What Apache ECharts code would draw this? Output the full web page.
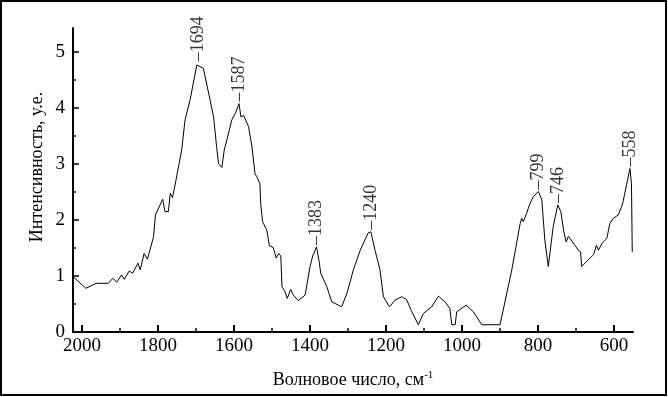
<!DOCTYPE html>
<html>
<head>
<meta charset="utf-8">
<script src="https://cdn.jsdelivr.net/npm/echarts@6/dist/echarts.min.js"></script>
<style>
  html, body { margin: 0; padding: 0; background: #fff; }
  #chart { width: 668px; height: 397px; }
</style>
</head>
<body>
<div id="chart"></div>
<script>
// spectrum (wavenumber, intensity)
const wavenumbers = [
  2024, 1990, 1963, 1931, 1919, 1909, 1896, 1889, 1876, 1867, 1853, 1847, 1837, 1828,
  1812, 1807, 1788, 1782, 1773, 1768, 1762, 1753, 1738, 1729, 1716, 1698, 1694, 1681,
  1676, 1663, 1654, 1646, 1641, 1632, 1628, 1626, 1619, 1606, 1597, 1587, 1582, 1575,
  1562, 1553, 1545, 1540, 1532, 1530, 1525, 1514, 1507, 1497, 1489, 1483, 1477, 1474,
  1466, 1460, 1451, 1444, 1431, 1413, 1400, 1393, 1383, 1376, 1372, 1356, 1343, 1317,
  1303, 1286, 1268, 1247, 1240, 1229, 1216, 1207, 1191, 1176, 1159, 1146, 1132, 1115,
  1102, 1080, 1062, 1045, 1032, 1027, 1018, 1014, 989, 970, 948, 900, 869, 847,
  843, 839, 830, 821, 812, 799, 790, 782, 773, 768, 760, 748, 740, 732,
  726, 720, 716, 703, 694, 688, 685, 672, 654, 646, 641, 632, 619, 611,
  602, 589, 580, 576, 567, 558, 554, 552
];
const intensity = [
  0.99, 0.78, 0.87, 0.87, 0.96, 0.89, 1.02, 0.94, 1.09, 1.05, 1.23, 1.11, 1.40, 1.30,
  1.70, 2.09, 2.37, 2.15, 2.15, 2.48, 2.40, 2.71, 3.25, 3.79, 4.14, 4.77, 4.80, 4.71,
  4.68, 4.14, 3.84, 3.31, 3.01, 2.94, 2.92, 3.25, 3.43, 3.79, 3.90, 4.08, 3.84, 3.87,
  3.67, 3.31, 2.83, 2.77, 2.65, 2.30, 1.97, 1.82, 1.54, 1.51, 1.32, 1.40, 1.36, 0.81,
  0.72, 0.60, 0.76, 0.66, 0.56, 0.66, 1.17, 1.36, 1.52, 1.26, 1.05, 0.81, 0.54, 0.45,
  0.69, 1.11, 1.46, 1.77, 1.79, 1.46, 1.11, 0.63, 0.45, 0.57, 0.63, 0.58, 0.36, 0.13,
  0.33, 0.45, 0.64, 0.54, 0.42, 0.13, 0.13, 0.36, 0.48, 0.36, 0.13, 0.13, 1.11, 1.94,
  2.03, 1.97, 2.12, 2.30, 2.42, 2.51, 2.36, 1.64, 1.17, 1.18, 1.88, 2.27, 2.15, 1.79,
  1.61, 1.71, 1.70, 1.55, 1.46, 1.43, 1.17, 1.26, 1.38, 1.55, 1.46, 1.58, 1.67, 1.94,
  2.03, 2.09, 2.24, 2.33, 2.63, 2.92, 2.65, 1.43
];

const peakX = [1694, 1587, 1383, 1240, 799, 746, 558];
const peakY = [4.80, 4.08, 1.52, 1.79, 2.51, 2.27, 2.92];

const xMajor = [2000, 1800, 1600, 1400, 1200, 1000, 800, 600];
const xMinor = [1900, 1700, 1500, 1300, 1100, 900, 700];
const yMajor = [0, 1, 2, 3, 4, 5];
const yMinor = [0.5, 1.5, 2.5, 3.5, 4.5];

const xMin = 550, xMax = 2024;
const yMin = 0, yMax = 5.43;

const font = '"Liberation Serif", "Times New Roman", serif';

const chart = echarts.init(document.getElementById('chart'));

const baseX = {
  type: 'value',
  inverse: true,
  min: xMin,
  max: xMax,
  position: 'bottom',
  splitLine: { show: false },
};
const baseY = {
  type: 'value',
  min: yMin,
  max: yMax,
  position: 'left',
  splitLine: { show: false },
};

chart.setOption({
  animation: false,
  backgroundColor: '#fff',
  grid: { left: 73, right: 35, top: 28, bottom: 65 },
  xAxis: [
    {
      ...baseX,
      name: 'Волновое число, см{sup|-1}',
      nameLocation: 'middle',
      nameGap: 38,
      nameTextStyle: {
        fontFamily: font, fontSize: 18, color: '#000',
        rich: { sup: { fontFamily: font, fontSize: 11, color: '#000', padding: [0, 0, 9, 0] } },
      },
      axisLine: { show: true, lineStyle: { color: '#000', width: 2 } },
      axisTick: { show: true, inside: true, length: 7, customValues: xMajor, lineStyle: { color: '#000', width: 2 } },
      axisLabel: {
        customValues: xMajor, margin: 5, fontFamily: font, fontSize: 19, color: '#000',
        formatter: (v) => String(v),
      },
    },
    {
      ...baseX,
      axisLine: { show: false },
      axisTick: { show: true, inside: true, length: 4, customValues: xMinor, lineStyle: { color: '#000', width: 1.5 } },
      axisLabel: { show: false },
    },
  ],
  yAxis: [
    {
      ...baseY,
      axisLine: { show: true, lineStyle: { color: '#000', width: 2 } },
      axisTick: { show: true, inside: true, length: 6, customValues: yMajor, lineStyle: { color: '#000', width: 1.5 } },
      axisLabel: { customValues: yMajor, margin: 8, fontFamily: font, fontSize: 19, color: '#000' },
    },
    {
      ...baseY,
      axisLine: { show: false },
      axisTick: { show: true, inside: true, length: 3, customValues: yMinor, lineStyle: { color: '#000', width: 1.5 } },
      axisLabel: { show: false },
    },
  ],
  series: [
    {
      type: 'line',
      xAxisIndex: 0,
      yAxisIndex: 0,
      data: wavenumbers.map((w, i) => [w, intensity[i]]),
      symbol: 'none',
      lineStyle: { color: '#000', width: 1 },
      silent: true,
    },
    {
      type: 'scatter',
      xAxisIndex: 0,
      yAxisIndex: 0,
      data: peakX.map((w, i) => [w, peakY[i]]),
      symbolSize: 0,
      silent: true,
      label: {
        show: true,
        position: 'top',
        distance: 2,
        rotate: 90,
        align: 'left',
        verticalAlign: 'middle',
        formatter: (p) => '–' + p.value[0],
        fontFamily: font,
        fontSize: 18,
        color: '#000',
      },
    },
  ],
  graphic: [
    {
      type: 'text',
      x: 37,
      y: 167,
      rotation: Math.PI / 2,
      style: {
        text: 'Интенсивность, у.е.',
        font: '18px ' + font,
        fill: '#000',
        textAlign: 'center',
        textVerticalAlign: 'middle',
      },
    },
    {
      type: 'rect',
      shape: { x: 1, y: 1, width: 665, height: 394 },
      style: { fill: 'none', stroke: '#000', lineWidth: 2 },
      silent: true,
    },
  ],
});
</script>
</body>
</html>
